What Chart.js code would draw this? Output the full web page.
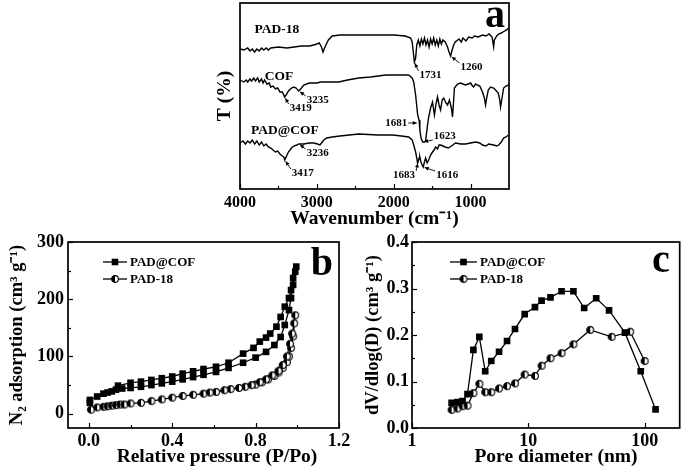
<!DOCTYPE html>
<html><head><meta charset="utf-8">
<script src="https://cdn.jsdelivr.net/npm/chart.js@4.4.1/dist/chart.umd.min.js"></script>
<style>
html,body{margin:0;padding:0;background:#fff;}
#wrap{position:relative;width:685px;height:471px;overflow:hidden;background:#fff;}
canvas{position:absolute;left:0;top:0;}
</style></head><body>
<div id="wrap">
<canvas id="ca" width="685" height="471"></canvas>
<canvas id="cb" width="685" height="471"></canvas>
<canvas id="cc" width="685" height="471"></canvas>
</div>
<script>
// ================= DATA =================
// Panel a: FTIR spectra (wavenumber, transmittance in arbitrary offset units)
const irWn_PAD18 = [4000,3950,3900,3870,3840,3810,3780,3750,3720,3690,3660,3630,3600,3500,3390,3200,3090,3000,2970,2940,2920,2900,2870,2850,2800,2700,2500,2200,2000,1850,1780,1760,1745,1731,1715,1700,1680,1660,1640,1620,1600,1580,1560,1540,1520,1500,1480,1460,1440,1420,1400,1380,1360,1330,1300,1280,1260,1240,1220,1200,1150,1120,1100,1060,1025,980,950,900,845,800,760,720,700,690,660,635,600,560,530,505];
const irT_PAD18 = [140,139,141,138,140,137,140,138,141,139,141,139,141,142,141,143,143,145,146,142,137,141,146,149,153,154,154,154,154,153,151,147,137,127,131,144,149,143,150,145,151,144,149,142,150,145,151,144,149,143,150,145,149,147,142,137,133,139,144,147,150,147,151,148,152,151,153,152,154,153,155,152,142,149,153,155,156,158,159,161];

const irWn_COF = [4000,3950,3920,3900,3870,3850,3820,3800,3770,3750,3720,3700,3680,3650,3620,3600,3570,3540,3510,3480,3450,3430,3419,3400,3370,3330,3300,3270,3235,3200,3170,3100,3050,3000,2950,2900,2800,2715,2600,2455,2300,2105,1900,1805,1760,1740,1715,1690,1681,1670,1660,1645,1623,1600,1585,1560,1545,1520,1495,1480,1470,1450,1430,1410,1390,1370,1350,1320,1300,1275,1250,1235,1220,1210,1170,1130,1100,1065,1030,1000,975,960,935,910,880,845,820,805,790,770,740,700,675,640,620,610,595,570,540,505];
const irT_COF = [109,107,109,107,110,108,111,108,111,107,110,106,109,105,106,102,103,100,101,97,97,94,92,94,98,101,102,101,98,101,104,106,106,106,107,107,107,107,109,111,112,114,114,114,111,107,94,75,72,69,59,51,47,47,48,64,72,81,87,79,74,85,92,84,79,89,91,86,84,89,81,72,89,101,105,106,105,104,105,106,103,102,105,104,103,97,91,84,91,99,102,101,99,96,89,82,89,101,103,104];

const irWn_PADCOF = [4000,3960,3930,3900,3870,3840,3810,3780,3750,3720,3690,3660,3630,3600,3570,3540,3510,3480,3450,3430,3417,3400,3370,3330,3300,3260,3236,3200,3170,3100,3040,2990,2960,2930,2910,2870,2800,2700,2455,2200,2015,1900,1805,1760,1740,1715,1700,1690,1683,1670,1660,1645,1630,1616,1600,1585,1565,1545,1520,1495,1475,1455,1430,1410,1390,1360,1330,1290,1250,1195,1130,1065,1000,935,880,845,800,765,700,660,635,600,570,540,505];
const irT_PADCOF = [46,48,45,48,46,49,45,48,44,47,43,45,42,41,39,37,38,35,33,32,29,32,37,41,43,44,45,45,45,46,46,45,44,47,49,51,52,53,55,54,54,53,52,49,44,37,31,26,27,31,32,27,24,22,27,31,26,29,34,37,39,42,40,44,44,43,42,41,43,46,45,45,46,47,46,44,43,45,44,43,44,47,51,52,54];

const irSeriesNames = ['PAD-18','COF','PAD@COF'];
const irTicks = [4000,3000,2000,1000];
const irMinorTicks = [3500,2500,1500];
// marked peaks: label, wavenumber, transmittance at the marked point
const irPeakLabels = ['1731','1260','3419','3235','1681','1623','3236','3417','1683','1616'];
const irPeakWn = [1731,1260,3419,3235,1681,1623,3236,3417,1683,1616];
const irPeakT = [127,133,92,98,66,47,45,29,27,22];

// Panel b: N2 sorption isotherms (adsorption then desorption branch)
const bP_PADCOF = [0.005,0.005,0.04,0.07,0.09,0.11,0.13,0.16,0.2,0.25,0.3,0.35,0.4,0.45,0.5,0.55,0.61,0.67,0.74,0.8,0.85,0.89,0.92,0.94,0.96,0.97,0.98,0.99,0.995,0.98,0.97,0.96,0.94,0.92,0.9,0.87,0.85,0.82,0.79,0.74,0.67,0.61,0.55,0.5,0.45,0.4,0.35,0.3,0.25,0.2,0.14];
const bV_PADCOF = [19,24,30,35,37,39,42,44,45,47,50,53,56,60,64,68,73,80,89,98,108,120,134,155,181,202,225,248,257,237,216,202,187,169,152,140,133,126,115,105,89,82,78,74,70,65,62,59,56,54,49];
const bP_PAD18 = [0.01,0.04,0.07,0.09,0.11,0.13,0.15,0.17,0.2,0.25,0.3,0.35,0.4,0.45,0.5,0.55,0.61,0.68,0.75,0.8,0.83,0.86,0.89,0.91,0.93,0.95,0.96,0.97,0.98,0.99,0.985,0.975,0.965,0.95,0.93,0.91,0.88,0.85,0.82,0.78,0.72,0.65,0.58];
const bV_PAD18 = [7,11,12,13,14,15,16,16,18,19,22,25,28,31,33,35,38,43,47,51,55,60,66,72,80,90,100,115,135,172,158,140,122,100,85,75,67,60,55,50,45,41,37];
const bXTicks = [0,0.4,0.8,1.2];
const bXMinor = [0.2,0.6,1.0];
const bYTicks = [0,100,200,300];
const bYMinor = [50,150,250];

// Panel c: pore size distribution
const cD_PADCOF = [2.19,2.46,2.72,3.0,3.37,3.79,4.26,4.8,5.6,6.56,7.68,9.3,11.4,13.0,15.5,19.3,24.4,30.2,38.3,49.4,67.6,92.5,124];
const cV_PADCOF = [0.054,0.056,0.058,0.073,0.168,0.196,0.122,0.144,0.164,0.187,0.213,0.245,0.26,0.274,0.281,0.294,0.294,0.258,0.279,0.253,0.205,0.122,0.04];
const cD_PAD18 = [2.19,2.46,2.72,3.0,3.37,3.79,4.26,4.8,5.6,6.56,7.68,9.3,11.4,13.0,15.5,19.3,24.4,34,52,75,100];
const cV_PAD18 = [0.039,0.042,0.047,0.048,0.075,0.095,0.077,0.077,0.085,0.09,0.096,0.115,0.112,0.134,0.15,0.161,0.18,0.211,0.196,0.207,0.144];
const cXTicks = [1,10,100];
const cYTicks = [0,0.1,0.2,0.3,0.4];
const cYMinor = [0.05,0.15,0.25,0.35];

// ================= HELPERS =================
const FONT = "'Liberation Serif','Times New Roman',serif";
const pts = (xs, ys) => xs.map((x, i) => ({x: x, y: ys[i]}));

function halfCircle(r) {
  const s = Math.ceil(2 * r + 3);
  const c = document.createElement('canvas');
  c.width = s; c.height = s;
  const g = c.getContext('2d');
  const cx = s / 2, cy = s / 2;
  g.beginPath(); g.arc(cx, cy, r, 0, 2 * Math.PI); g.fillStyle = '#fff'; g.fill();
  g.beginPath(); g.moveTo(cx, cy - r); g.arc(cx, cy, r, -Math.PI / 2, Math.PI / 2, true); g.closePath();
  g.fillStyle = '#000'; g.fill();
  g.beginPath(); g.arc(cx, cy, r, 0, 2 * Math.PI); g.lineWidth = 1.1; g.strokeStyle = '#000'; g.stroke();
  return c;
}
const halfImg = halfCircle(3.4);

function makeFrame(cfg) {
  return {
    id: 'frame',
    afterDatasetsDraw(chart) {
      const {ctx, chartArea: a, scales} = chart;
      ctx.save();
      ctx.strokeStyle = '#000';
      ctx.lineWidth = 1.2;
      const tx = (vals, len) => (vals || []).forEach(v => {
        const p = Math.round(scales.x.getPixelForValue(v)) + 0.5;
        ctx.beginPath(); ctx.moveTo(p, a.bottom); ctx.lineTo(p, a.bottom - len); ctx.stroke();
      });
      const ty = (vals, len) => (vals || []).forEach(v => {
        const p = Math.round(scales.y.getPixelForValue(v)) + 0.5;
        ctx.beginPath(); ctx.moveTo(a.left, p); ctx.lineTo(a.left + len, p); ctx.stroke();
      });
      tx(cfg.xMajor, 5); tx(cfg.xMinor, 3);
      ty(cfg.yMajor, 5); ty(cfg.yMinor, 3);
      ctx.lineWidth = 1.7;
      ctx.strokeRect(a.left, a.top, a.right - a.left, a.bottom - a.top);
      if (cfg.letter) {
        ctx.fillStyle = '#000';
        ctx.font = 'bold ' + cfg.letter.size + 'px ' + FONT;
        ctx.textAlign = 'right'; ctx.textBaseline = 'alphabetic';
        ctx.fillText(cfg.letter.text, a.right - cfg.letter.dx, a.top + cfg.letter.dy);
      }
      (cfg.texts || []).forEach(t => {
        ctx.save();
        ctx.fillStyle = '#000';
        ctx.font = 'bold ' + t.size + 'px ' + FONT;
        ctx.textAlign = 'center'; ctx.textBaseline = 'middle';
        ctx.translate(t.x, t.y);
        ctx.fillText(t.text, 0, 0);
        ctx.restore();
      });
      ctx.restore();
    }
  };
}

function makeIrLabels(samplePos, peakOffsets) {
  return {
    id: 'irLabels',
    afterDatasetsDraw(chart) {
      const {ctx, scales} = chart;
      ctx.save();
      ctx.fillStyle = '#000'; ctx.strokeStyle = '#000';
      ctx.textAlign = 'center'; ctx.textBaseline = 'middle';
      ctx.font = 'bold 13.5px ' + FONT;
      irSeriesNames.forEach((n, i) => {
        ctx.fillText(n, scales.x.getPixelForValue(samplePos[i][0]), scales.y.getPixelForValue(samplePos[i][1]));
      });
      ctx.font = 'bold 11px ' + FONT;
      irPeakLabels.forEach((lab, i) => {
        const tx = scales.x.getPixelForValue(irPeakWn[i]);
        const ty = scales.y.getPixelForValue(irPeakT[i]);
        const lx = tx + peakOffsets[i][0], ly = ty + peakOffsets[i][1];
        ctx.fillText(lab, lx, ly);
        const hw = ctx.measureText(lab).width / 2 + 1, hh = 4;
        const ex = Math.min(Math.max(tx, lx - hw), lx + hw);
        const ey = Math.min(Math.max(ty, ly - hh), ly + hh);
        const dx = ex - tx, dy = ey - ty, L = Math.hypot(dx, dy) || 1;
        const ux = dx / L, uy = dy / L;
        const sx = tx + ux * 1.5, sy = ty + uy * 1.5;
        ctx.lineWidth = 0.9;
        ctx.beginPath(); ctx.moveTo(sx, sy); ctx.lineTo(ex, ey); ctx.stroke();
        const ah = 4, aw = 2;
        ctx.beginPath();
        ctx.moveTo(sx, sy);
        ctx.lineTo(sx + ux * ah - uy * aw, sy + uy * ah + ux * aw);
        ctx.lineTo(sx + ux * ah + uy * aw, sy + uy * ah - ux * aw);
        ctx.closePath(); ctx.fill();
      });
      ctx.restore();
    }
  };
}

function makeLegend(x0, y0, rowH, lineLen) {
  return {
    id: 'customLegend',
    afterDatasetsDraw(chart) {
      const {ctx} = chart;
      ctx.save();
      chart.data.datasets.forEach((ds, i) => {
        const y = y0 + i * rowH;
        ctx.strokeStyle = '#000'; ctx.lineWidth = 1.3;
        ctx.beginPath(); ctx.moveTo(x0, y); ctx.lineTo(x0 + lineLen, y); ctx.stroke();
        const cx = x0 + lineLen / 2;
        if (ds.pointStyle === 'rect') {
          ctx.fillStyle = '#000'; ctx.fillRect(cx - 3.3, y - 3.3, 6.6, 6.6);
        } else {
          ctx.drawImage(ds.pointStyle, cx - ds.pointStyle.width / 2, y - ds.pointStyle.height / 2);
        }
        ctx.fillStyle = '#000';
        ctx.font = 'bold 13px ' + FONT;
        ctx.textAlign = 'left'; ctx.textBaseline = 'middle';
        ctx.fillText(ds.label, x0 + lineLen + 3, y + 0.5);
      });
      ctx.restore();
    }
  };
}

const tickFont = (s) => ({family: FONT, size: s, weight: 'bold'});
const titleFont = (s) => ({family: FONT, size: s, weight: 'bold'});
const baseOpts = {
  responsive: false, animation: false, events: [],
  plugins: {legend: {display: false}, tooltip: {enabled: false}},
};

// ================= PANEL A =================
new Chart(document.getElementById('ca'), {
  type: 'line',
  data: {
    datasets: [
      {label: irSeriesNames[0], data: pts(irWn_PAD18, irT_PAD18)},
      {label: irSeriesNames[1], data: pts(irWn_COF, irT_COF)},
      {label: irSeriesNames[2], data: pts(irWn_PADCOF, irT_PADCOF)}
    ].map(d => Object.assign(d, {borderColor: '#000', borderWidth: 1.4, pointRadius: 0, tension: 0, fill: false}))
  },
  options: Object.assign({}, baseOpts, {
    layout: {padding: {left: 209, right: 176, top: 3, bottom: 240}},
    scales: {
      x: {
        type: 'linear', reverse: true, min: 500, max: 4000,
        afterBuildTicks: s => { s.ticks = irTicks.map(v => ({value: v})); },
        afterFit: s => { s.height = 42; },
        grid: {display: false, drawTicks: false}, border: {display: false},
        ticks: {padding: 4, font: tickFont(16), color: '#000', maxRotation: 0, autoSkip: false, callback: v => String(v)},
        title: {display: true, text: 'Wavenumber (cm⁻¹)', font: titleFont(19.5), color: '#000', padding: {top: 0, bottom: 0}}
      },
      y: {
        type: 'linear', min: 0, max: 186,
        afterFit: s => { s.width = 31; },
        grid: {display: false, drawTicks: false}, border: {display: false},
        ticks: {display: false},
        title: {display: true, text: 'T (%)', font: titleFont(19.5), color: '#000', padding: {top: 4, bottom: 0}}
      }
    }
  }),
  plugins: [
    makeFrame({xMajor: irTicks, xMinor: irMinorTicks, letter: {text: 'a', size: 40, dx: 4, dy: 24}}),
    makeIrLabels([[3520, 159], [3494, 112], [3416, 58]],
      [[16, 13], [21, 11], [16, 11], [19, 9], [-22, 0], [22, -6], [19, 9], [18, 13], [-14, 13], [24, 8]])
  ]
});

// ================= PANEL B =================
new Chart(document.getElementById('cb'), {
  type: 'line',
  data: {
    datasets: [
      {label: 'PAD@COF', data: pts(bP_PADCOF, bV_PADCOF), pointStyle: 'rect', pointRadius: 4.7, pointBackgroundColor: '#000', pointBorderWidth: 0},
      {label: 'PAD-18', data: pts(bP_PAD18, bV_PAD18), pointStyle: halfImg, pointRadius: 3.5}
    ].map(d => Object.assign(d, {borderColor: '#000', borderWidth: 1.3, tension: 0, fill: false}))
  },
  options: Object.assign({}, baseOpts, {
    layout: {padding: {left: 6, right: 346, top: 242, bottom: 7}},
    scales: {
      x: {
        type: 'linear', min: -0.1, max: 1.2,
        afterBuildTicks: s => { s.ticks = bXTicks.map(v => ({value: v})); },
        afterFit: s => { s.height = 36; },
        grid: {display: false, drawTicks: false}, border: {display: false},
        ticks: {padding: 3, font: tickFont(18), color: '#000', maxRotation: 0, autoSkip: false, callback: v => Number(v).toFixed(1)},
        title: {display: false}
      },
      y: {
        type: 'linear', min: -25, max: 300,
        afterBuildTicks: s => { s.ticks = bYTicks.map(v => ({value: v})); },
        afterFit: s => { s.width = 62; },
        grid: {display: false, drawTicks: false}, border: {display: false},
        ticks: {padding: 4, font: tickFont(18), color: '#000', autoSkip: false, callback: v => String(v)},
        title: {display: true, text: 'N₂ adsorption (cm³ g⁻¹)', font: titleFont(18.5), color: '#000', padding: {top: 0, bottom: 0}}
      }
    }
  }),
  plugins: [
    makeFrame({xMajor: bXTicks, xMinor: bXMinor, yMajor: bYTicks, yMinor: bYMinor,
      letter: {text: 'b', size: 40, dx: 6, dy: 33},
      texts: [{text: 'Relative pressure (P/Po)', x: 217, y: 457, size: 19.5}]}),
    makeLegend(103, 262, 17, 24)
  ]
});

// ================= PANEL C =================
new Chart(document.getElementById('cc'), {
  type: 'line',
  data: {
    datasets: [
      {label: 'PAD@COF', data: pts(cD_PADCOF, cV_PADCOF), pointStyle: 'rect', pointRadius: 4.7, pointBackgroundColor: '#000', pointBorderWidth: 0},
      {label: 'PAD-18', data: pts(cD_PAD18, cV_PAD18), pointStyle: halfImg, pointRadius: 3.5}
    ].map(d => Object.assign(d, {borderColor: '#000', borderWidth: 1.3, tension: 0, fill: false}))
  },
  options: Object.assign({}, baseOpts, {
    layout: {padding: {left: 362, right: 2, top: 242, bottom: 7}},
    scales: {
      x: {
        type: 'logarithmic', min: 1, max: 200,
        afterBuildTicks: s => { s.ticks = cXTicks.map(v => ({value: v})); },
        afterFit: s => { s.height = 36; },
        grid: {display: false, drawTicks: false}, border: {display: false},
        ticks: {padding: 3, font: tickFont(18), color: '#000', maxRotation: 0, autoSkip: false, callback: v => String(v)},
        title: {display: false}
      },
      y: {
        type: 'linear', min: 0, max: 0.4,
        afterBuildTicks: s => { s.ticks = cYTicks.map(v => ({value: v})); },
        afterFit: s => { s.width = 50; },
        grid: {display: false, drawTicks: false}, border: {display: false},
        ticks: {padding: 3, font: tickFont(18), color: '#000', autoSkip: false, callback: v => Number(v).toFixed(1)},
        title: {display: true, text: 'dV/dlog(D) (cm³ g⁻¹)', font: titleFont(18.5), color: '#000', padding: {top: 0, bottom: 0}}
      }
    }
  }),
  plugins: [
    makeFrame({xMajor: cXTicks, yMajor: cYTicks, yMinor: cYMinor,
      letter: {text: 'c', size: 40, dx: 10, dy: 30},
      texts: [{text: 'Pore diameter (nm)', x: 556, y: 457, size: 19.5}]}),
    makeLegend(450, 262, 17, 27)
  ]
});
</script>
</body></html>
